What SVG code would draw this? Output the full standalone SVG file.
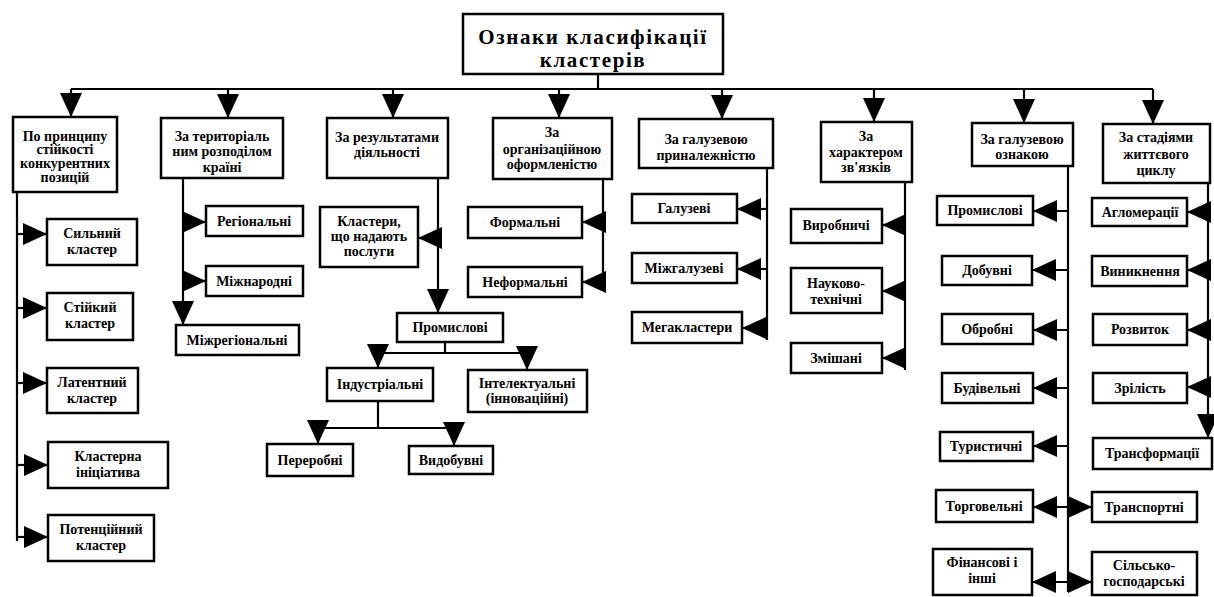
<svg xmlns="http://www.w3.org/2000/svg" width="1214" height="597" viewBox="0 0 1214 597">
<style>
.b{fill:#fff;stroke:#000;stroke-width:2.5}
.t{font-family:"Liberation Serif","Times New Roman",serif;font-size:14px;font-weight:bold;fill:#000;text-anchor:middle}
.tt{font-family:"Liberation Serif","Times New Roman",serif;font-size:21px;font-weight:bold;letter-spacing:1.6px;fill:#000;text-anchor:middle}
.c{fill:none;stroke:#000;stroke-width:2.2}
.a{marker-end:url(#ah)}
</style>
<defs>
<marker id="ah" viewBox="0 0 24 22" refX="24" refY="11" markerWidth="24" markerHeight="22" markerUnits="userSpaceOnUse" orient="auto">
<path d="M0,0 L24,11 L0,22 Z" fill="#000"/>
</marker>
</defs>
<rect width="1214" height="597" fill="#fff"/>
<g id="connectors">
<path class="c" d="M598,74 V89 M71,89 H1153"/>
<path class="c a" d="M71,89 V117"/>
<path class="c a" d="M228,89 V118"/>
<path class="c a" d="M393,89 V118"/>
<path class="c a" d="M559,89 V118"/>
<path class="c a" d="M722,89 V119"/>
<path class="c a" d="M874,89 V122"/>
<path class="c a" d="M1024,89 V123"/>
<path class="c a" d="M1153,89 V124"/>
<path class="c" d="M17,192 V541"/>
<path class="c a" d="M17,234 H47"/>
<path class="c a" d="M17,308 H47"/>
<path class="c a" d="M17,383 H47"/>
<path class="c a" d="M17,465 H48"/>
<path class="c a" d="M17,537 H48"/>
<path class="c a" d="M183,178 V325"/>
<path class="c a" d="M183,222 H206"/>
<path class="c a" d="M183,281 H206"/>
<path class="c a" d="M438,178 V313"/>
<path class="c a" d="M438,238 H418"/>
<path class="c" d="M445,342 V353 M378,353 H527"/>
<path class="c a" d="M378,353 V368"/>
<path class="c a" d="M527,353 V370"/>
<path class="c" d="M378,401 V428 M318,428 H454"/>
<path class="c a" d="M318,428 V444"/>
<path class="c a" d="M454,428 V446"/>
<path class="c" d="M603,179 V285"/>
<path class="c a" d="M603,222 H582"/>
<path class="c a" d="M605,282 H582"/>
<path class="c" d="M767,168 V340"/>
<path class="c a" d="M767,209 H737"/>
<path class="c a" d="M767,269 H737"/>
<path class="c a" d="M767,328 H742"/>
<path class="c" d="M905,182 V370"/>
<path class="c a" d="M905,225 H882"/>
<path class="c a" d="M905,291 H882"/>
<path class="c a" d="M905,358 H882"/>
<path class="c" d="M1068,166 V592"/>
<path class="c a" d="M1068,211 H1033"/>
<path class="c a" d="M1068,270 H1032"/>
<path class="c a" d="M1068,330 H1033"/>
<path class="c a" d="M1068,388 H1033"/>
<path class="c a" d="M1068,446 H1033"/>
<path class="c a" d="M1068,507 H1033"/>
<path class="c a" d="M1068,582 H1032"/>
<path class="c a" d="M1068,507 H1092"/>
<path class="c a" d="M1068,582 H1092"/>
<path class="c a" d="M1208,183 V438"/>
<path class="c a" d="M1208,212 H1187"/>
<path class="c a" d="M1208,270 H1187"/>
<path class="c a" d="M1208,330 H1187"/>
<path class="c a" d="M1208,387 H1187"/>
</g>
<g id="n-title"><rect class="b" x="463" y="14" width="260" height="60"/><text class="tt" x="593" y="44">Ознаки класифікації</text><text class="tt" x="593" y="67">кластерів</text></g>
<g id="n-c1"><rect class="b" x="13" y="117" width="104" height="75"/><text class="t" x="65" y="141">По принципу</text><text class="t" x="65" y="154">стійкості</text><text class="t" x="65" y="168">конкурентних</text><text class="t" x="65" y="182">позицій</text></g>
<g id="n-c2"><rect class="b" x="161" y="118" width="122" height="60"/><text class="t" x="222" y="141">За територіаль</text><text class="t" x="222" y="156">ним розподілом</text><text class="t" x="222" y="172">країні</text></g>
<g id="n-c3"><rect class="b" x="327" y="118" width="121" height="60"/><text class="t" x="387" y="142">За результатами</text><text class="t" x="387" y="157">діяльності</text></g>
<g id="n-c4"><rect class="b" x="493" y="118" width="119" height="61"/><text class="t" x="552" y="137">За</text><text class="t" x="552" y="154">організаційною</text><text class="t" x="552" y="169">оформленістю</text></g>
<g id="n-c5"><rect class="b" x="639" y="119" width="134" height="49"/><text class="t" x="706" y="144">За галузевою</text><text class="t" x="706" y="160">приналежністю</text></g>
<g id="n-c6"><rect class="b" x="821" y="122" width="91" height="60"/><text class="t" x="866" y="141">За</text><text class="t" x="866" y="157">характером</text><text class="t" x="866" y="172">зв'язків</text></g>
<g id="n-c7"><rect class="b" x="972" y="123" width="101" height="43"/><text class="t" x="1022" y="144">За галузевою</text><text class="t" x="1022" y="159">ознакою</text></g>
<g id="n-c8"><rect class="b" x="1103" y="124" width="107" height="59"/><text class="t" x="1156" y="142">За стадіями</text><text class="t" x="1156" y="159">життєвого</text><text class="t" x="1156" y="175">циклу</text></g>
<g id="n-sylnyi"><rect class="b" x="47" y="219" width="90" height="46"/><text class="t" x="92" y="238">Сильний</text><text class="t" x="92" y="254">кластер</text></g>
<g id="n-stiikyi"><rect class="b" x="47" y="293" width="86" height="47"/><text class="t" x="90" y="312">Стійкий</text><text class="t" x="90" y="328">кластер</text></g>
<g id="n-latentnyi"><rect class="b" x="47" y="368" width="91" height="45"/><text class="t" x="92" y="387">Латентний</text><text class="t" x="92" y="403">кластер</text></g>
<g id="n-initsiatyva"><rect class="b" x="48" y="442" width="120" height="46"/><text class="t" x="108" y="461">Кластерна</text><text class="t" x="108" y="477">ініціатива</text></g>
<g id="n-potentsiinyi"><rect class="b" x="48" y="515" width="106" height="46"/><text class="t" x="101" y="534">Потенційний</text><text class="t" x="101" y="550">кластер</text></g>
<g id="n-rehionalni"><rect class="b" x="206" y="206" width="97" height="30"/><text class="t" x="254" y="226">Регіональні</text></g>
<g id="n-mizhnarodni"><rect class="b" x="206" y="266" width="97" height="30"/><text class="t" x="254" y="286">Міжнародні</text></g>
<g id="n-mizhrehionalni"><rect class="b" x="176" y="325" width="123" height="30"/><text class="t" x="237" y="345">Міжрегіональні</text></g>
<g id="n-posluhy"><rect class="b" x="320" y="207" width="98" height="60"/><text class="t" x="369" y="226">Кластери,</text><text class="t" x="369" y="241">що надають</text><text class="t" x="369" y="256">послуги</text></g>
<g id="n-promyslovi"><rect class="b" x="397" y="313" width="106" height="29"/><text class="t" x="450" y="332">Промислові</text></g>
<g id="n-industrialni"><rect class="b" x="327" y="368" width="106" height="33"/><text class="t" x="380" y="389">Індустріальні</text></g>
<g id="n-intelektualni"><rect class="b" x="468" y="370" width="119" height="42"/><text class="t" x="527" y="388">Інтелектуальні</text><text class="t" x="527" y="403">(інноваційні)</text></g>
<g id="n-pererobni"><rect class="b" x="267" y="444" width="86" height="32"/><text class="t" x="310" y="465">Переробні</text></g>
<g id="n-vydobuvni"><rect class="b" x="409" y="446" width="84" height="28"/><text class="t" x="451" y="465">Видобувні</text></g>
<g id="n-formalni"><rect class="b" x="468" y="207" width="114" height="31"/><text class="t" x="525" y="227">Формальні</text></g>
<g id="n-neformalni"><rect class="b" x="468" y="267" width="114" height="30"/><text class="t" x="525" y="287">Неформальні</text></g>
<g id="n-haluzevi"><rect class="b" x="632" y="194" width="105" height="29"/><text class="t" x="684" y="213">Галузеві</text></g>
<g id="n-mizhhaluzevi"><rect class="b" x="632" y="253" width="105" height="30"/><text class="t" x="684" y="273">Міжгалузеві</text></g>
<g id="n-mehaklastery"><rect class="b" x="632" y="312" width="110" height="31"/><text class="t" x="687" y="332">Мегакластери</text></g>
<g id="n-vyrobnychi"><rect class="b" x="791" y="209" width="91" height="34"/><text class="t" x="836" y="230">Виробничі</text></g>
<g id="n-naukovo"><rect class="b" x="791" y="268" width="91" height="45"/><text class="t" x="836" y="288">Науково-</text><text class="t" x="836" y="304">технічні</text></g>
<g id="n-zmishani"><rect class="b" x="791" y="343" width="91" height="30"/><text class="t" x="836" y="363">Змішані</text></g>
<g id="n-g-promyslovi"><rect class="b" x="937" y="196" width="96" height="29"/><text class="t" x="985" y="215">Промислові</text></g>
<g id="n-dobuvni"><rect class="b" x="942" y="256" width="90" height="29"/><text class="t" x="987" y="275">Добувні</text></g>
<g id="n-obrobni"><rect class="b" x="942" y="314" width="91" height="30"/><text class="t" x="987" y="334">Обробні</text></g>
<g id="n-budivelni"><rect class="b" x="942" y="373" width="91" height="30"/><text class="t" x="987" y="393">Будівельні</text></g>
<g id="n-turystychni"><rect class="b" x="940" y="432" width="93" height="29"/><text class="t" x="986" y="451">Туристичні</text></g>
<g id="n-torhovelni"><rect class="b" x="936" y="490" width="97" height="32"/><text class="t" x="984" y="511">Торговельні</text></g>
<g id="n-finansovi"><rect class="b" x="933" y="549" width="99" height="46"/><text class="t" x="982" y="567">Фінансові і</text><text class="t" x="982" y="583">інші</text></g>
<g id="n-transportni"><rect class="b" x="1092" y="492" width="105" height="30"/><text class="t" x="1144" y="512">Транспортні</text></g>
<g id="n-silsko"><rect class="b" x="1092" y="552" width="105" height="43"/><text class="t" x="1144" y="570">Сільсько-</text><text class="t" x="1144" y="586">господарські</text></g>
<g id="n-ahlomeratsii"><rect class="b" x="1092" y="198" width="95" height="28"/><text class="t" x="1140" y="217">Агломерації</text></g>
<g id="n-vynyknennia"><rect class="b" x="1092" y="256" width="95" height="30"/><text class="t" x="1140" y="276">Виникнення</text></g>
<g id="n-rozvytok"><rect class="b" x="1093" y="314" width="94" height="31"/><text class="t" x="1140" y="334">Розвиток</text></g>
<g id="n-zrilist"><rect class="b" x="1093" y="373" width="94" height="30"/><text class="t" x="1140" y="393">Зрілість</text></g>
<g id="n-transformatsii"><rect class="b" x="1093" y="438" width="119" height="31"/><text class="t" x="1152" y="458">Трансформації</text></g>
</svg>
